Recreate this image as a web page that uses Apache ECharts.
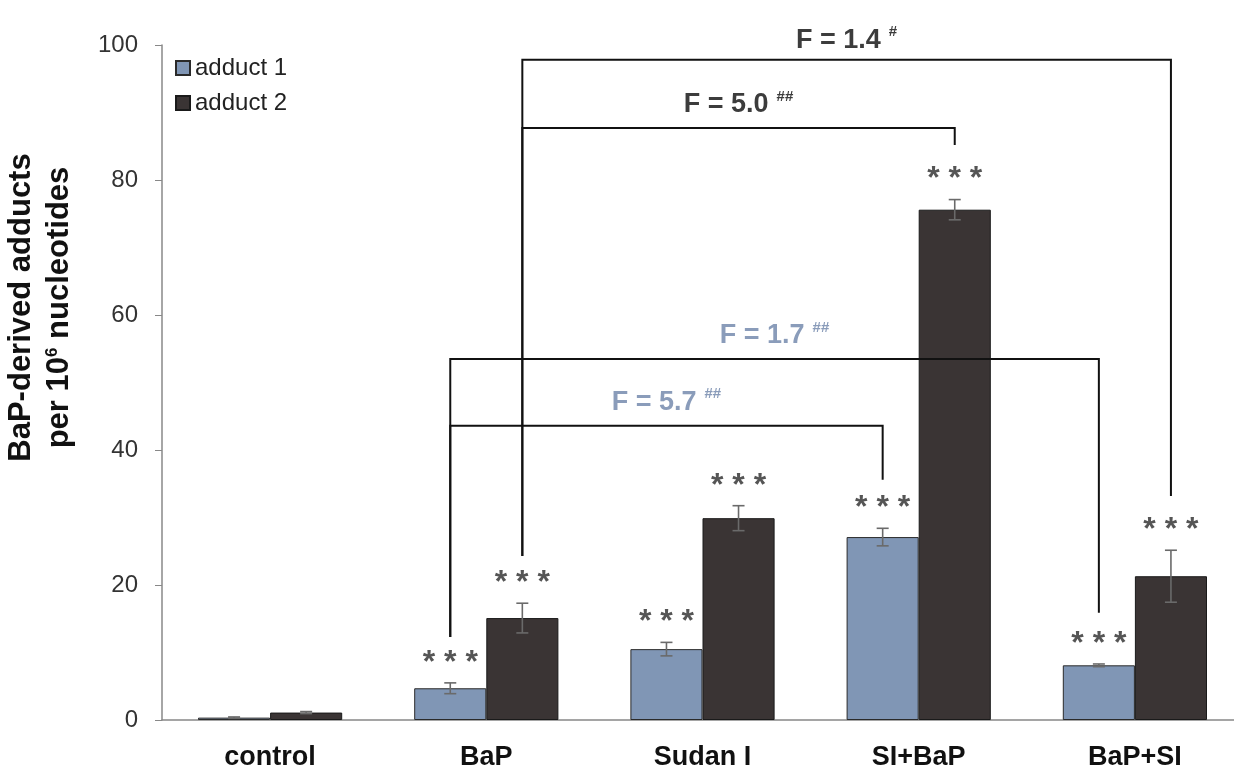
<!DOCTYPE html>
<html>
<head>
<meta charset="utf-8">
<script src="https://cdn.jsdelivr.net/npm/echarts@6/dist/echarts.min.js"></script>
<style>
  html, body { margin: 0; padding: 0; background: #fff; }
  #chart { width: 1234px; height: 767px; }
</style>
</head>
<body>
<div id="chart"></div>
<script>
// groups on the x axis
const categories = ['control', 'BaP', 'Sudan I', 'SI+BaP', 'BaP+SI'];
// adduct levels per 10^6 nucleotides
const adduct1 = [0.35, 4.7, 10.5, 27.1, 8.1];
const adduct2 = [1.1, 15.1, 29.9, 75.6, 21.3];
// error bar half-lengths
const adduct1Err = [0.1, 0.8, 1.0, 1.3, 0.2];
const adduct2Err = [0.15, 2.2, 1.85, 1.5, 3.85];
// significance stars
const adduct1Sig = ['', '* * *', '* * *', '* * *', '* * *'];
const adduct2Sig = ['', '* * *', '* * *', '* * *', '* * *'];
// brackets: [fromCat, fromSeries, toCat, toSeries, level, fromEnd, toEnd]
const bracketPos = [
  [1, 1, 4, 1, 97.8, 24.3, 33.2],
  [1, 1, 3, 1, 87.7, 24.3, 85.2],
  [1, 0, 4, 0, 53.5, 12.3, 15.9],
  [1, 0, 3, 0, 43.6, 12.3, 35.6]
];
const bracketText = ['F = 1.4', 'F = 5.0', 'F = 1.7', 'F = 5.7'];
const bracketMark = ['#', '##', '##', '##'];
const bracketSeries = [1, 1, 0, 0];

const colA = '#8096b5';
const colB = '#3a3434';
const fontMain = 'Liberation Sans, Arial, sans-serif';

var chart = echarts.init(document.getElementById('chart'));

function barOffset(api, s) {
  var band = api.size([1, 0])[0];
  return (s === 0 ? -1 : 1) * band / 6;
}

function errItem(s) {
  return function (params, api) {
    var cat = api.value(0), val = api.value(1), err = api.value(2);
    var sig = s === 0 ? adduct1Sig[cat] : adduct2Sig[cat];
    var off = barOffset(api, s);
    var top = api.coord([cat, val + err]);
    var bot = api.coord([cat, val - err]);
    var x = top[0] + off;
    var cap = 6;
    var st = { stroke: '#6a6a6a', lineWidth: 1.6 };
    return {
      type: 'group',
      children: [
        { type: 'line', shape: { x1: x, y1: top[1], x2: x, y2: bot[1] }, style: st },
        { type: 'line', shape: { x1: x - cap, y1: top[1], x2: x + cap, y2: top[1] }, style: st },
        { type: 'line', shape: { x1: x - cap, y1: bot[1], x2: x + cap, y2: bot[1] }, style: st },
        { type: 'text', x: x, y: top[1] - 20, style: {
            text: sig, fill: '#555', font: 'bold 32px ' + fontMain,
            align: 'center', verticalAlign: 'middle' } }
      ]
    };
  };
}

function bracketItem(params, api) {
  var i = params.dataIndex;
  var b = bracketPos[i];
  var x1 = api.coord([b[0], 0])[0] + barOffset(api, b[1]);
  var x2 = api.coord([b[2], 0])[0] + barOffset(api, b[3]);
  var yl = api.coord([0, b[4]])[1];
  var y1 = api.coord([0, b[5]])[1];
  var y2 = api.coord([0, b[6]])[1];
  var tc = bracketSeries[i] === 1 ? '#3c3c3c' : '#8a9cba';
  return {
    type: 'group',
    children: [
      { type: 'polyline', shape: { points: [[x1, y1], [x1, yl], [x2, yl], [x2, y2]] },
        style: { stroke: '#111', lineWidth: 2, fill: null } },
      { type: 'text', x: (x1 + x2) / 2, y: yl - (i === 0 ? 19 : 23), style: {
          text: '{t|' + bracketText[i] + '}{s|' + bracketMark[i] + '}',
          align: 'center', verticalAlign: 'middle',
          rich: {
            t: { font: 'bold 27px ' + fontMain, fill: tc },
            s: { font: 'bold 15px ' + fontMain, fill: tc, padding: [0, 0, 17, 8] }
          } } }
    ]
  };
}

var option = {
  animation: false,
  backgroundColor: '#fff',
  grid: { left: 162, top: 45, width: 1081, height: 675, outerBoundsMode: 'none' },
  legend: {
    orient: 'vertical', left: 170, top: 51, itemWidth: 14, itemHeight: 14, itemGap: 11,
    icon: 'rect',
    textStyle: { fontSize: 24, color: '#222', fontFamily: fontMain },
    data: ['adduct 1', 'adduct 2']
  },
  xAxis: {
    type: 'category', data: categories,
    axisLine: { lineStyle: { color: '#888', width: 1.5 } },
    axisTick: { show: false },
    axisLabel: { fontSize: 27, fontWeight: 'bold', color: '#111', fontFamily: fontMain, margin: 24 }
  },
  yAxis: {
    type: 'value', min: 0, max: 100, interval: 20,
    splitLine: { show: false },
    axisLine: { show: true, lineStyle: { color: '#888', width: 1.5 } },
    axisTick: { show: true, length: 7, lineStyle: { color: '#888' } },
    axisLabel: { fontSize: 24, color: '#333', fontFamily: fontMain, margin: 24 },
    name: 'BaP-derived adducts\nper 10{s|6} nucleotides',
    nameLocation: 'middle', nameRotate: 90, nameGap: 84,
    nameTextStyle: {
      fontSize: 31, fontWeight: 'bold', color: '#111', fontFamily: fontMain, lineHeight: 38,
      padding: [0, 0, 0, 150],
      rich: { s: { fontSize: 17, fontWeight: 'bold', color: '#111', padding: [0, 0, 14, 0] } }
    }
  },
  series: [
    { name: 'adduct 1', type: 'bar', data: adduct1, barGap: '0%', barCategoryGap: '33.3%',
      itemStyle: { color: colA, borderColor: '#2a2a2a', borderWidth: 1 } },
    { name: 'adduct 2', type: 'bar', data: adduct2,
      itemStyle: { color: colB, borderColor: '#1a1a1a', borderWidth: 1 } },
    { type: 'custom', renderItem: errItem(0), z: 5,
      data: adduct1.map(function (v, i) { return [i, v, adduct1Err[i]]; }) },
    { type: 'custom', renderItem: errItem(1), z: 5,
      data: adduct2.map(function (v, i) { return [i, v, adduct2Err[i]]; }) },
    { type: 'custom', renderItem: bracketItem, z: 6,
      data: bracketPos.map(function (b) { return [b[0], b[4]]; }) }
  ]
};
chart.setOption(option);
</script>
</body>
</html>
